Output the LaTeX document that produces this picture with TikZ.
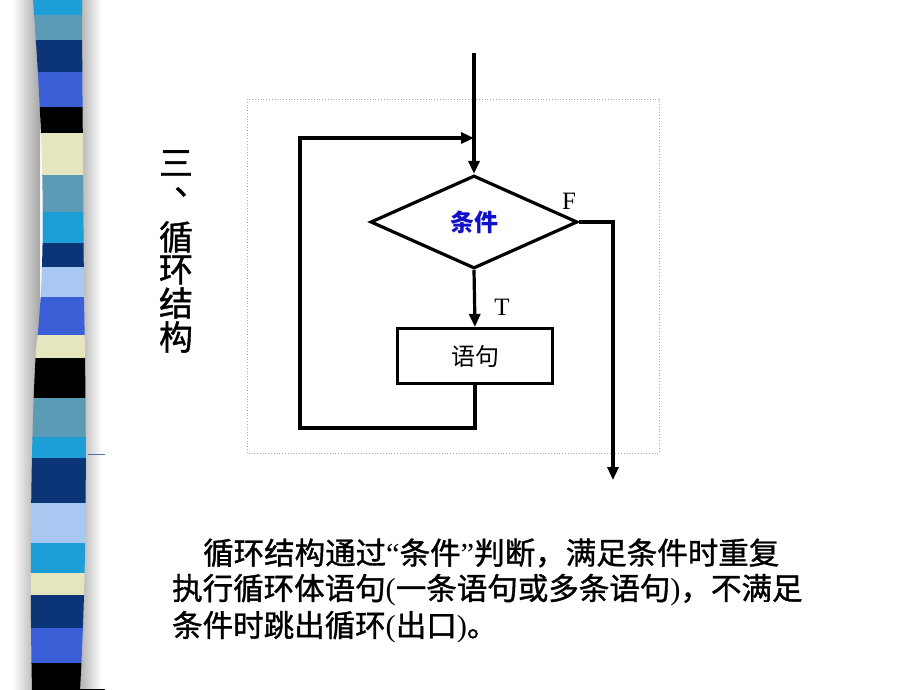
\documentclass[tikz,border=0pt]{standalone}
\usepackage{fontspec}
\setmainfont{Liberation Serif}
\newfontfamily\cjk{Noto Sans CJK SC}
\newfontfamily\cjkheavy[FakeBold=1.2]{Noto Sans CJK SC}
\usetikzlibrary{arrows.meta,shapes.geometric}
\definecolor{stripcyan}{HTML}{1E9ED6}
\definecolor{stripsteel}{HTML}{5B9BB5}
\definecolor{stripnavy}{HTML}{0B3576}
\definecolor{stripblue}{HTML}{3B5FD6}
\definecolor{stripcream}{HTML}{E6E6BE}
\definecolor{striplight}{HTML}{A8C8F2}
\definecolor{condblue}{HTML}{1010C8}
\begin{document}
\begin{tikzpicture}[x=1pt,y=-1pt,
    line/.style={line width=3.2pt},
    flow/.style={line width=3.2pt,-{Triangle[length=13pt,width=11pt]}},
    title/.style={font=\cjkheavy\fontsize{34}{34}\selectfont,inner sep=0pt},
    body/.style={font=\cjkheavy\fontsize{30.5}{37}\selectfont,inner sep=0pt,anchor=west},
    label/.style={font=\fontsize{25}{25}\selectfont,inner sep=0pt}]
  \useasboundingbox (0,0) rectangle (920,690);
  % side strip
  \shade[left color=white,right color=black!35] (12,0) rectangle (40,690);
  \shade[left color=black!30,right color=white] (80,0) rectangle (102,690);
  \begin{scope}
    \clip (33,0) .. controls (42,120) and (48,250) .. (36,350)
      .. controls (30,450) and (30,600) .. (32,690) -- (80,690)
      .. controls (88,550) and (86,400) .. (84,300)
      .. controls (83,150) and (82,50) .. (82,0) -- cycle;
    \foreach \ya/\yb/\col in {0/15/stripcyan,15/40/stripsteel,40/72/stripnavy,
        72/107/stripblue,107/133/black,133/175/stripcream,175/212/stripsteel,
        212/243/stripcyan,243/267/stripnavy,267/297/striplight,297/335/stripblue,
        335/358/stripcream,358/398/black,398/437/stripsteel,437/458/stripcyan,
        458/503/stripnavy,503/543/striplight,543/573/stripcyan,573/595/stripcream,
        595/628/stripnavy,628/663/stripblue,663/690/black}
      \fill[\col] (0,\ya) rectangle (120,\yb);
  \end{scope}
  \draw[stripnavy!70,line width=1pt] (88,454) -- (105,454);
  \draw[line width=1pt] (77,689) -- (105,689);
  % title
  \node[title] (t1) at (176,163) {三};
  \node[title,anchor=north west] (t2) at (174,187) {、};
  \foreach \ch/\yy [count=\i from 3] in {循/237,环/270,结/303,构/337}
    \node[title] (t\i) at (176,\yy) {\ch};
  % frame
  \draw[black!35,dotted,line width=0.8pt] (247,99) rectangle (659,453);
  % flowchart
  \node[draw,line,diamond,minimum width=207pt,minimum height=93pt,inner sep=0pt,
    font=\cjk\bfseries\fontsize{24}{24}\selectfont,text=condblue] (cond) at (474,222) {条件};
  \node[draw,line,minimum width=155pt,minimum height=55pt,inner sep=0pt,
    font=\cjk\fontsize{24}{24}\selectfont] (stmt) at (475,356) {语句};
  \coordinate (entry) at (474,53);
  \coordinate (join) at (474,138);
  \coordinate (loopbl) at (300,428);
  \coordinate (looptl) at (300,138);
  \coordinate (exit) at (613,480);
  \draw[flow] (entry) -- (cond.north);
  \draw[flow] (cond.south) -- (stmt.north);
  \draw[flow] (stmt.south) |- (loopbl) -- (looptl) -- (join);
  \draw[flow] (cond.east) -| (exit);
  \node[label] (lt) at (502,307) {T};
  \node[label] (lf) at (569,201) {F};
  % text
  \node[body] (p1) at (203,553) {循环结构通过{\rmfamily“}条件{\rmfamily”}判断，满足条件时重复};
  \node[body] (p2) at (172,590) {执行循环体语句{\rmfamily(}一条语句或多条语句{\rmfamily)}，不满足};
  \node[body] (p3) at (172,627) {条件时跳出循环{\rmfamily(}出口{\rmfamily)}。};
\end{tikzpicture}
\end{document}
